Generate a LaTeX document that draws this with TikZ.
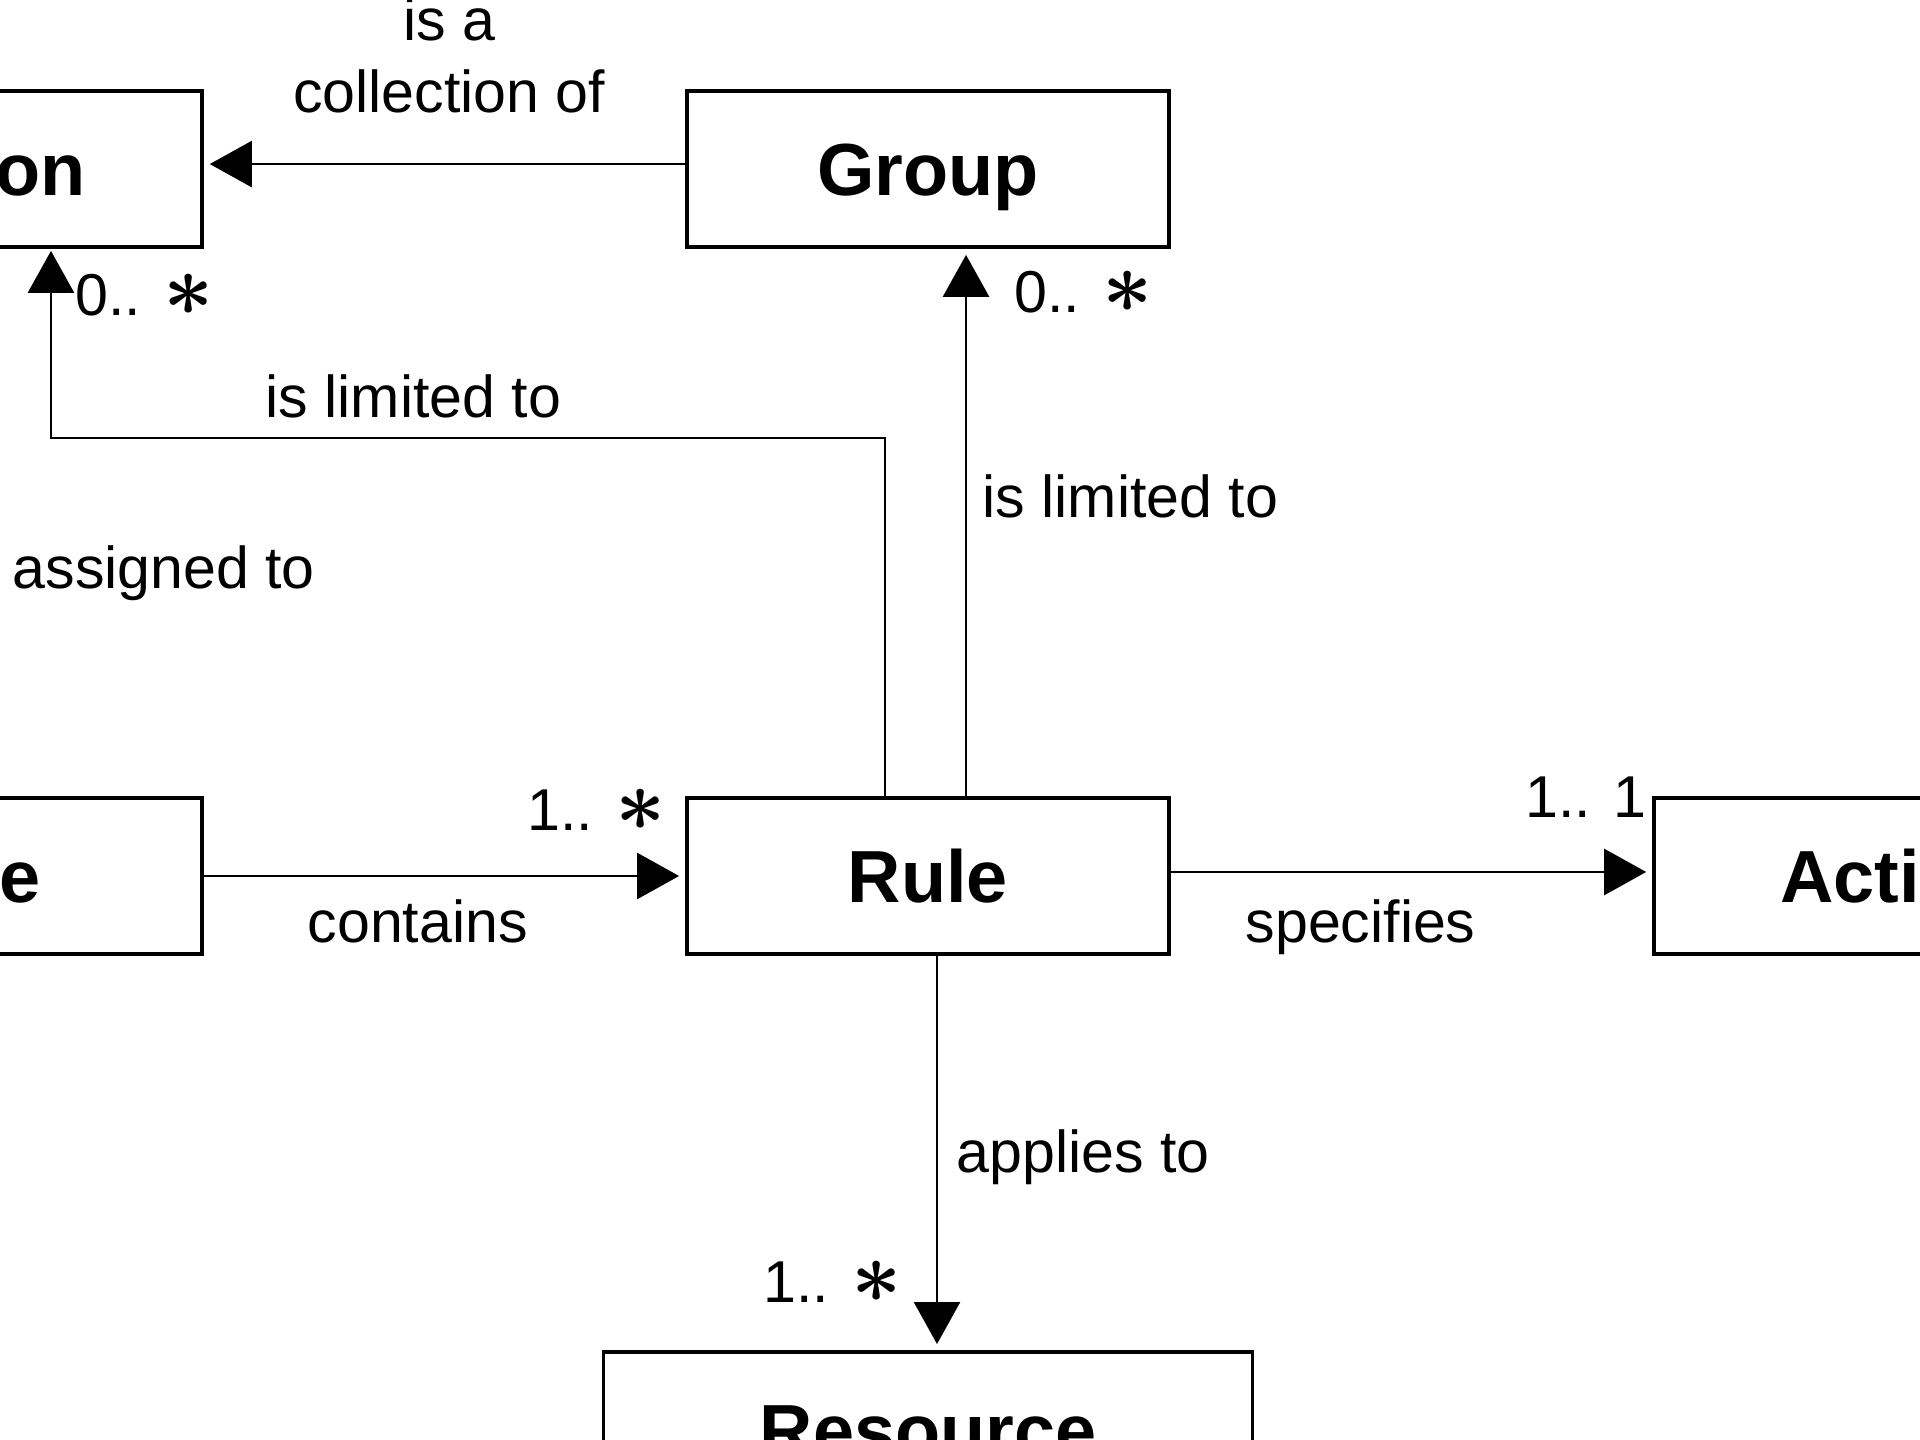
\documentclass[tikz,border=0pt]{standalone}
\usepackage{fontspec}
\setmainfont{Liberation Sans}
\usetikzlibrary{arrows.meta, positioning}
\newcommand{\many}{{\fontsize{24}{24}\selectfont\boldmath$\ast$}}

\begin{document}
\begin{tikzpicture}[
  x=0.01cm, y=-0.01cm,
  entity/.style={rectangle, draw, line width=1pt, minimum width=4.82cm,
                 minimum height=1.56cm, inner sep=0pt, text height=0.53cm,
                 text depth=0pt, font=\fontsize{21}{25}\selectfont\bfseries},
  lbl/.style={inner sep=0pt, anchor=base west,
              font=\fontsize{16.8}{20.7}\selectfont},
  arrow/.style={-{Triangle[length=0.42cm, width=0.46cm]}, line width=0.75pt,
                shorten >=0.06cm}
]

\clip (0,0) rectangle (1920,1440);

\node[entity] (rule) at (928,876) {Rule};
\node[entity, above=5.47cm of rule] (group) {Group};
\node[entity, left=4.81cm of group] (person) {Person};
\node[entity, left=4.81cm of rule] (role) {Role};
\node[entity, right=4.81cm of rule] (action) {Action};
\node[entity, below=3.94cm of rule, minimum width=6.49cm] (resource) {Resource};

% labels
\node[lbl, anchor=base, align=center] (collection) at (449,113) {is a\\collection of};
\node[lbl] (limperson) at (265,418) {is limited to};
\node[lbl] (limgroup) at (982,518) {is limited to};
\node[lbl] (assigned) at (12,589) {assigned to};
\node[lbl] (contains) at (307,943) {contains};
\node[lbl] (specifies) at (1245,943) {specifies};
\node[lbl] (applies) at (956,1173) {applies to};

% multiplicities
\node[lbl] (mperson) at (75,316) {0.. \many};
\node[lbl] (mgroup) at (1014,313) {0.. \many};
\node[lbl] (mrule) at (527,831) {1.. \many};
\node[lbl] (maction) at (1525,818) {1.. 1};
\node[lbl] (mresource) at (763,1303) {1.. \many};

\draw[arrow] ([yshift=0.05cm]group.west) -- ([yshift=0.05cm]person.east);
\draw[arrow, shorten >=0.02cm] ([xshift=-0.43cm]rule.north) -- ++(0,3.58cm) -| ([xshift=0.90cm]person.south);
\draw[arrow] ([xshift=0.38cm]rule.north) -- ([xshift=0.38cm]group.south);
\draw[arrow] (role.east) -- (rule.west);
\draw[arrow] ([yshift=0.04cm]rule.east) -- ([yshift=0.04cm]action.west);
\draw[arrow] ([xshift=0.09cm]rule.south) -- ([xshift=0.09cm]resource.north);

\end{tikzpicture}
\end{document}
